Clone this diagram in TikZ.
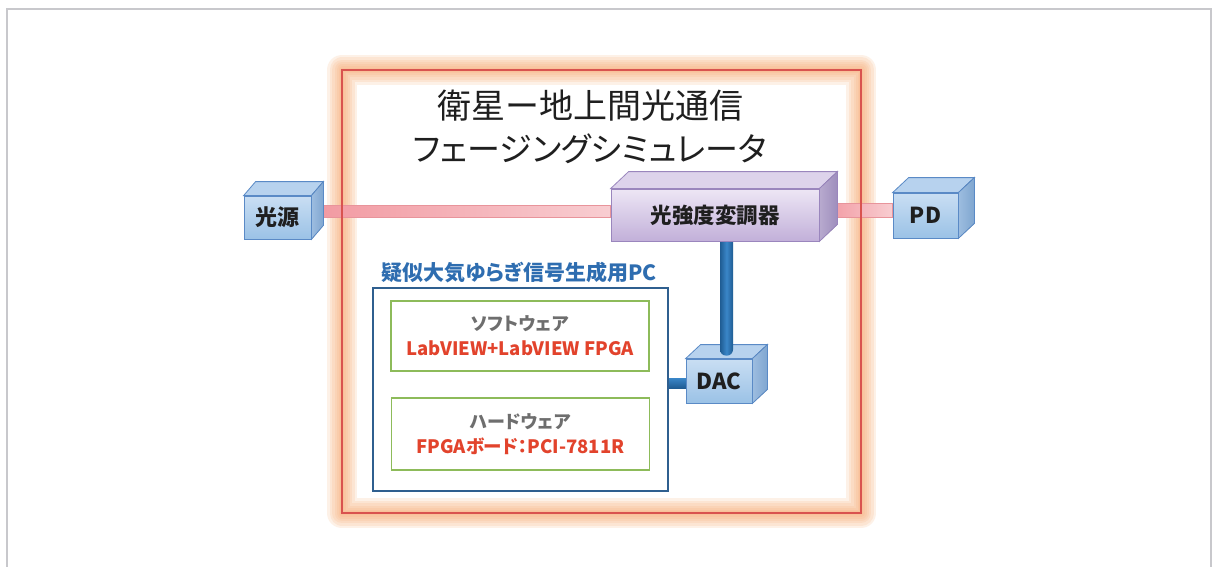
\documentclass[tikz,border=0pt]{standalone}
\usepackage{fontspec}
\newfontfamily\jp{Noto Sans CJK JP}
\newfontfamily\jpp{Noto Sans CJK JP}[RawFeature=+palt]
\usetikzlibrary{calc}
\definecolor{framegray}{HTML}{C8C8CC}
\definecolor{glow}{HTML}{F9AE76}
\definecolor{framered}{HTML}{D9534F}
\definecolor{bluetop}{HTML}{C9DEF3}
\definecolor{bluebot}{HTML}{9BC2E6}
\definecolor{blueline}{HTML}{5A8AC6}
\definecolor{bluetopface}{HTML}{B7D2EE}
\definecolor{bluesideA}{HTML}{9DBDE0}
\definecolor{bluesideB}{HTML}{7FA6D0}
\definecolor{purtop}{HTML}{EDE6F5}
\definecolor{purbot}{HTML}{C2B0D9}
\definecolor{purline}{HTML}{9A86BD}
\definecolor{purtopface}{HTML}{DDD3EB}
\definecolor{pursideA}{HTML}{B8AACF}
\definecolor{pursideB}{HTML}{9E8EBD}
\definecolor{pinkA}{HTML}{F29AA2}
\definecolor{pinkB}{HTML}{F8CDD1}
\definecolor{pinkline}{HTML}{E8949B}
\definecolor{barA}{HTML}{1F5C93}
\definecolor{barB}{HTML}{3A86C8}
\definecolor{pcblue}{HTML}{2F5F8F}
\definecolor{pctext}{HTML}{2E6DB0}
\definecolor{boxgreen}{HTML}{8DBB5A}
\definecolor{redtext}{HTML}{E2432C}
\definecolor{graytext}{HTML}{6E6E6E}
\pgfdeclarelayer{bgl}
\pgfdeclarelayer{glowl}
\pgfdeclarelayer{beaml}
\pgfdeclarelayer{redl}
\pgfdeclarelayer{barhl}
\pgfdeclarelayer{barvl}
\pgfdeclarelayer{topl}
\pgfsetlayers{bgl,glowl,beaml,redl,barhl,main,barvl,topl}
\newcommand\cubefaces[4]{%
  \filldraw[#4top] (#1.north west) -- ++(#2,-#3) -- ($(#1.north east)+(#2,-#3)$) -- (#1.north east) -- cycle;
  \filldraw[#4side] (#1.north east) -- ++(#2,-#3) -- ($(#1.south east)+(#2,-#3)$) -- (#1.south east) -- cycle;}
\tikzset{
  bluefront/.style={draw=blueline, line width=0.8pt, top color=bluetop, bottom color=bluebot,
    font=\jpp\bfseries\fontsize{22}{22}\selectfont, text=black!88, inner sep=0pt},
  bluetop/.style={draw=blueline, line width=0.8pt, fill=bluetopface},
  blueside/.style={draw=blueline, line width=0.8pt, left color=bluesideA, right color=bluesideB},
  purfront/.style={draw=purline, line width=0.8pt, top color=purtop, bottom color=purbot,
    font=\jpp\bfseries\fontsize{21.5}{22}\selectfont, text=black!88, inner sep=0pt},
  purtop/.style={draw=purline, line width=0.8pt, fill=purtopface},
  purside/.style={draw=purline, line width=0.8pt, left color=pursideA, right color=pursideB},
  beam/.style={draw=pinkline, line width=0.5pt, left color=pinkA, right color=pinkB},
  barv/.style={left color=barA, right color=barA, middle color=barB},
  barh/.style={top color=barB, bottom color=barA},
  glowline/.style={draw=glow, line width=#1, opacity=0.17, line join=round},
  innerbox/.style={draw=boxgreen, line width=1.8pt, minimum width=258pt, inner sep=0pt,
    align=center, font=\jpp\bfseries\fontsize{18}{25}\selectfont},
}
\begin{document}
\begin{tikzpicture}[x=1pt,y=-1pt]
\begin{pgfonlayer}{bgl}
\fill[white] (0,0) rectangle (1215,567);
\end{pgfonlayer}
\useasboundingbox (0,0) rectangle (1215,567);
% outer gray frame
\draw[framegray, line width=2.5pt] (7,567) -- (7,9) -- (1211,9) -- (1211,567);
% orange glow of simulator frame
\begin{pgfonlayer}{glowl}
\foreach \w in {30,25,20,15,11,7,4} {\draw[glowline=\w pt] (342,70) rectangle (861,513);}
\end{pgfonlayer}
\begin{pgfonlayer}{redl}
\draw[framered, line width=2pt] (342,70) rectangle (861,513);
\end{pgfonlayer}
% title
\node[font=\jp\fontsize{34}{43}\selectfont, align=center, text=black!88] (title) at (590,127)
  {衛星ー地上間光通信\\{\jpp\fontsize{33}{43}\selectfont フェージングシミュレータ}};
% cubes
\node[bluefront, minimum width=67pt, minimum height=43pt] (src) at (277.5,217.5) {光源};
\cubefaces{src}{12}{14}{blue}
\node[bluefront, minimum width=65pt, minimum height=45pt] (pd) at (925.5,215.5) {PD};
\cubefaces{pd}{16}{15}{blue}
\node[bluefront, minimum width=66pt, minimum height=44pt] (dac) at (719,381) {DAC};
\cubefaces{dac}{15}{14}{blue}
\begin{pgfonlayer}{topl}
\node[purfront, minimum width=208pt, minimum height=52pt] (mod) at (715,215) {光強度変調器};
\cubefaces{mod}{18}{17}{pur}
\end{pgfonlayer}
% PC box
\node[draw=pcblue, line width=1.8pt, minimum width=295pt, minimum height=203pt, inner sep=0pt] (pcbox) at (520.5,389.5) {};
\node[font=\jpp\bfseries\fontsize{21}{22}\selectfont, text=pctext] (pclabel) at (519,273) {疑似大気ゆらぎ信号生成用PC};
\node[innerbox, minimum height=70pt] (sw) at (520,336)
  {\textcolor{graytext}{ソフトウェア}\\\textcolor{redtext}{\fontsize{18.5}{25}\selectfont LabVIEW+LabVIEW FPGA}};
\node[innerbox, minimum height=72pt] (hw) at (520.5,434)
  {\textcolor{graytext}{ハードウェア}\\\textcolor{redtext}{\fontsize{18.5}{25}\selectfont FPGAボード：PCI-7811R}};
% beams
\begin{pgfonlayer}{beaml}
\path[beam] ($(src.north east)+(6,9.5)$) rectangle ($(mod.west)+(0,2.5)$);
\path[beam] ($(mod.east)+(7,-12)$) rectangle ($(pd.west)+(0,1.5)$);
\end{pgfonlayer}
% bars
\begin{pgfonlayer}{barhl}
\path[barh] ($(pcbox.east)+(0,-11.5)$) rectangle ($(dac.west)+(1,7)$);
\end{pgfonlayer}
\begin{pgfonlayer}{barvl}
\path[barv, rounded corners=6pt] ($(mod.south)+(5,-8)$) rectangle ($(dac.north)+(14,-3)$);
\end{pgfonlayer}
\end{tikzpicture}
\end{document}
